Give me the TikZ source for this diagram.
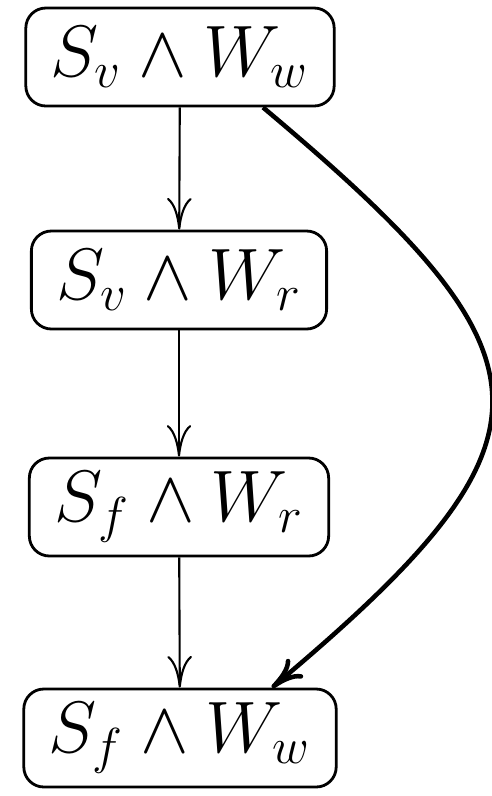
\documentclass[tikz,border=0pt]{standalone}
\usepackage{amsmath}
\usepackage{amsfonts, amssymb}
\usepackage{tikz}
\usetikzlibrary{arrows.meta, calc}

\begin{document}
\begin{tikzpicture}[
    statebox/.style={draw, line width=0.8pt, rounded corners=0.2cm, inner xsep=0.25cm,
        minimum height=0.98cm, font=\huge},
    downarrow/.style={line width=0.6pt, -{To[length=9pt,width=7pt]}},
    jumparrow/.style={line width=1.3pt, -{To[length=9pt,width=7pt]}}
]
\useasboundingbox (0,0) rectangle (4.92,-7.96);

% the four states
\node[statebox] (sv_ww) at (1.80,-0.57) {$S_v \wedge W_w$};
\node[statebox] (sv_wr) at (1.79,-2.80) {$S_v \wedge W_r$};
\node[statebox] (sf_wr) at (1.79,-5.07) {$S_f \wedge W_r$};
\node[statebox] (sf_ww) at (1.80,-7.38) {$S_f \wedge W_w$};

% straight steps down
\draw[downarrow] (sv_ww) -- (sv_wr);
\draw[downarrow] (sv_wr) -- (sf_wr);
\draw[downarrow] (sf_wr) -- (sf_ww);

% long way round on the right
\draw[jumparrow] ([xshift=0.83cm]sv_ww.south) to[out=-40, in=40, looseness=1.72]
    ([xshift=0.92cm]sf_ww.north);

\end{tikzpicture}
\end{document}
